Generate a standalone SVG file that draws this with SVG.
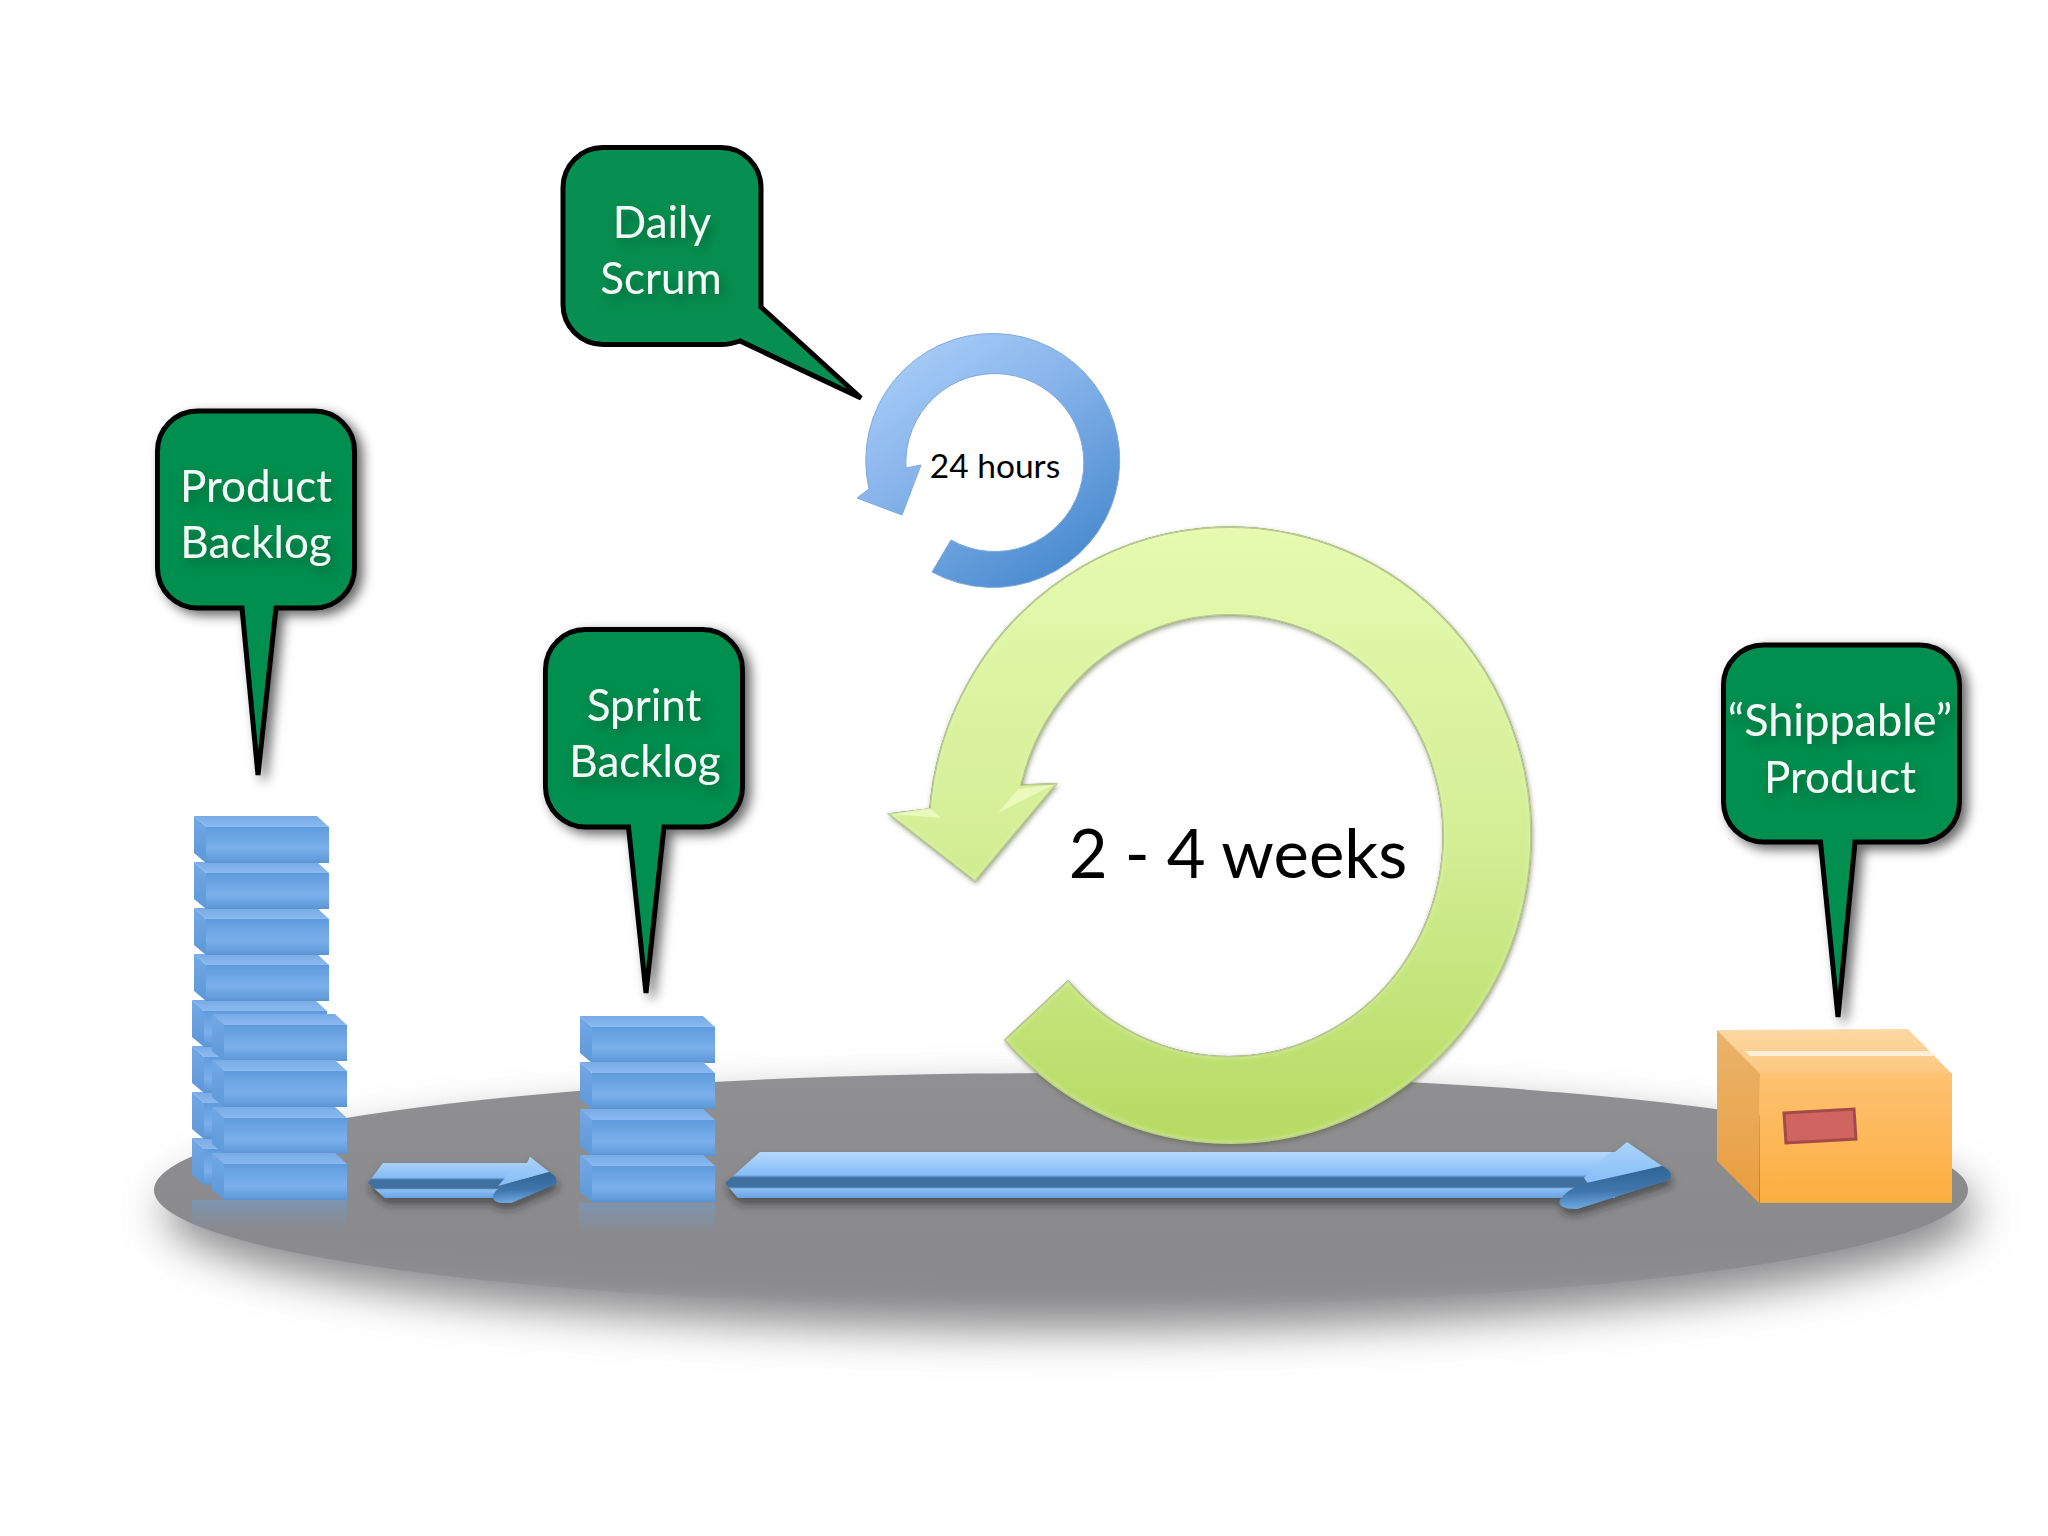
<svg xmlns="http://www.w3.org/2000/svg" width="2048" height="1536" viewBox="0 0 2048 1536">
<style>
.call{fill:#068f50;stroke:#000;stroke-width:5;stroke-linejoin:miter;stroke-miterlimit:4}
.lbl{font-family:"Lato","Liberation Sans",sans-serif;font-size:44px;fill:#f4fbf6;text-anchor:middle;filter:url(#ts)}
.blk{font-family:"Lato","Liberation Sans",sans-serif;fill:#000;text-anchor:middle}
</style>
<defs>
<filter id="ts" x="-30%" y="-50%" width="160%" height="220%"><feDropShadow dx="4" dy="6" stdDeviation="6" flood-color="#03502c" flood-opacity=".7"/></filter>
<filter id="cs" x="-20%" y="-20%" width="150%" height="140%"><feDropShadow dx="6" dy="5" stdDeviation="6" flood-color="#000" flood-opacity=".6"/></filter>
<filter id="big" x="-10%" y="-50%" width="120%" height="220%"><feGaussianBlur stdDeviation="22"/></filter>
<filter id="as" x="-10%" y="-60%" width="120%" height="260%"><feDropShadow dx="1" dy="6" stdDeviation="4" flood-color="#222" flood-opacity=".55"/></filter>
<filter id="soft"><feGaussianBlur stdDeviation=".7"/></filter>
<filter id="bev" x="-5%" y="-5%" width="110%" height="110%">
<feGaussianBlur in="SourceAlpha" stdDeviation="3" result="b"/>
<feComposite in="SourceAlpha" in2="b" operator="out" result="e"/>
<feFlood flood-color="#f2fcc8" flood-opacity=".7"/><feComposite in2="e" operator="in" result="l"/>
<feDropShadow in="SourceAlpha" dx="1" dy="2" stdDeviation="2.500" flood-color="#4d5a30" flood-opacity=".55" result="d"/>
<feMerge><feMergeNode in="d"/><feMergeNode in="SourceGraphic"/><feMergeNode in="l"/></feMerge>
</filter>
<linearGradient id="plat" gradientUnits="userSpaceOnUse" x1="0" y1="1073" x2="0" y2="1307"><stop offset="0" stop-color="#908f91"/><stop offset=".7" stop-color="#8a898b"/><stop offset=".85" stop-color="#8a898b" stop-opacity=".8"/><stop offset="1" stop-color="#8a898b" stop-opacity="0"/></linearGradient>
<linearGradient id="gGreen" x1="0" y1="0" x2="0" y2="1"><stop offset="0" stop-color="#e6fab0"/><stop offset=".5" stop-color="#d4ee96"/><stop offset="1" stop-color="#b6da62"/></linearGradient>
<linearGradient id="gBlue" x1="0" y1="0" x2=".7" y2="1"><stop offset="0" stop-color="#b2d4fb"/><stop offset=".45" stop-color="#8ab6ec"/><stop offset="1" stop-color="#4a8bcf"/></linearGradient>
<linearGradient id="fF" x1="0" y1="0" x2="0" y2="1"><stop offset="0" stop-color="#5f9bdc"/><stop offset=".12" stop-color="#65a0e0"/><stop offset=".6" stop-color="#7aafeb"/><stop offset=".9" stop-color="#639ddc"/><stop offset="1" stop-color="#5a93d0"/></linearGradient>
<linearGradient id="fT" x1="0" y1="0" x2="0" y2="1"><stop offset="0" stop-color="#78abe6"/><stop offset="1" stop-color="#8ab9f0"/></linearGradient>
<linearGradient id="fL" x1="0" y1="0" x2="0" y2="1"><stop offset="0" stop-color="#72a8e6"/><stop offset="1" stop-color="#5e98d8"/></linearGradient>
<linearGradient id="refl" x1="0" y1="0" x2="0" y2="1"><stop offset="0" stop-color="#6f9fd6" stop-opacity=".5"/><stop offset="1" stop-color="#6f9fd6" stop-opacity="0"/></linearGradient>
<linearGradient id="shaft" x1="0" y1="0" x2="0" y2="1"><stop offset="0" stop-color="#b6d8fd"/><stop offset=".5" stop-color="#85bcf7"/><stop offset=".56" stop-color="#3f6f9f"/><stop offset=".76" stop-color="#3f6f9f"/><stop offset=".8" stop-color="#8cc0f5"/><stop offset="1" stop-color="#68a2e2"/></linearGradient>
<linearGradient id="lobe" x1=".6" y1="0" x2=".72" y2="1"><stop offset="0" stop-color="#2f6292"/><stop offset=".55" stop-color="#3f76ad"/><stop offset="1" stop-color="#79b2ee"/></linearGradient>
<linearGradient id="hd" x1="0" y1="0" x2="0" y2="1"><stop offset="0" stop-color="#aad2fb"/><stop offset="1" stop-color="#85bcf7"/></linearGradient>
<linearGradient id="boxF" x1="0" y1="0" x2="0" y2="1"><stop offset="0" stop-color="#fdc272"/><stop offset="1" stop-color="#fcae3f"/></linearGradient>
<linearGradient id="boxL" x1="0" y1="0" x2="0" y2="1"><stop offset="0" stop-color="#eab46c"/><stop offset="1" stop-color="#ea9d3e"/></linearGradient>
<linearGradient id="boxT" x1="0" y1="0" x2="0" y2="1"><stop offset="0" stop-color="#fcd9a4"/><stop offset="1" stop-color="#fdc77e"/></linearGradient>
<g id="brick" filter="url(#soft)">
<polygon points="0,0 123,0 135,11 12,11" fill="url(#fT)"/>
<polygon points="0,0 12,11 12,47 0,37" fill="url(#fL)"/>
<rect x="12" y="11" width="123" height="36" fill="url(#fF)"/>
</g>
</defs>

<rect width="2048" height="1536" fill="#fff"/>

<g id="platform">
<ellipse cx="1070" cy="1212" rx="905" ry="118" fill="#8a898b" filter="url(#big)"/>
<ellipse cx="1061" cy="1190" rx="907" ry="117" fill="url(#plat)"/>
</g>

<g id="reflections">
<rect x="192" y="1200" width="155" height="32" fill="url(#refl)"/>
<rect x="579" y="1203" width="136" height="32" fill="url(#refl)"/>
</g>

<g id="product-stack">
<use href="#brick" x="192" y="1138"/>
<use href="#brick" x="192" y="1092"/>
<use href="#brick" x="192" y="1046"/>
<use href="#brick" x="192" y="1000"/>
<use href="#brick" x="194" y="954"/>
<use href="#brick" x="194" y="908"/>
<use href="#brick" x="194" y="862"/>
<use href="#brick" x="194" y="816"/>
<use href="#brick" x="212" y="1014"/>
<use href="#brick" x="212" y="1060"/>
<use href="#brick" x="212" y="1107"/>
<use href="#brick" x="212" y="1153"/>
</g>

<g id="sprint-stack">
<use href="#brick" x="580" y="1016"/>
<use href="#brick" x="580" y="1062"/>
<use href="#brick" x="580" y="1109"/>
<use href="#brick" x="580" y="1155"/>
</g>

<g id="connectors">
<g id="arrow-short" filter="url(#as)">
<path d="M368,1183 L383,1163 H527 L530,1157 L549,1172 L505,1184 L494,1198 H385 Z" fill="url(#shaft)"/>
<path d="M528,1163 L530,1157 L549,1172 L498,1186 L510,1172 Z" fill="url(#hd)"/>
<path d="M549,1172 Q559,1177 556,1184 L511,1203 Q491,1204 493,1195 Q497,1187 510,1183 Z" fill="url(#lobe)"/>
</g>
<g id="arrow-long" filter="url(#as)">
<path d="M725,1183 L760,1152 H1615 V1198 H738 Z" fill="url(#shaft)"/>
<path d="M1610,1152 H1615 L1627,1142 L1662,1166 L1590,1186 L1584,1178 Z" fill="url(#hd)"/>
<path d="M1662,1166 Q1675,1172 1669,1180 L1577,1209 Q1557,1209 1560,1200 Q1566,1190 1582,1184 Z" fill="url(#lobe)"/>
</g>
</g>

<g id="cycle-24h">
<path transform="translate(2,3)" d="M930,569 A127 127 0 1 0 867,486 L855,495 L900,512 L919,462 L904,465 A89 89 0 1 1 949,537 Z" fill="url(#gBlue)" stroke="#7ea9da" stroke-width="1"/>
<text class="blk" x="995" y="478" font-size="33.500">24 hours</text>
</g>

<g id="cycle-sprint">
<path d="M1005,1040 A301 308 0 1 0 930,809 L889,814 L975,881 L1056,784 L1021,785 A214 221 0 1 1 1068,981 Z" fill="url(#gGreen)" stroke="#9cb56c" stroke-width="1.500" filter="url(#bev)"/>
<polygon points="892,814 930,808 941,818" fill="#effcc4" opacity=".8"/>
<polygon points="1053,785 1018,789 998,813" fill="#effcc4" opacity=".8"/>
<text class="blk" x="1238" y="878" font-size="67">2 - 4 weeks</text>
</g>

<g id="box">
<polygon points="1717,1030 1908,1029 1952,1074 1760,1073" fill="url(#boxT)"/>
<polygon points="1745,1051 1930,1051 1936,1056 1750,1056" fill="#fdeed8"/>
<polygon points="1717,1030 1760,1073 1759,1203 1717,1161" fill="url(#boxL)"/>
<rect x="1760" y="1073" width="192" height="130" fill="url(#boxF)"/>
<polygon points="1784,1113 1854,1109 1856,1139 1786,1143" fill="#cf6460" stroke="#a44a48" stroke-width="3"/>
</g>

<g id="callout-daily">
<path class="call" d="M603,147.500 H721 A40 40 0 0 1 761,187.500 V307 L861,398 L740,341 Q730,344.500 721,344.500 H603 A40 40 0 0 1 563,304.500 V187.500 A40 40 0 0 1 603,147.500 Z"/>
<text class="lbl" x="662" y="238">Daily</text>
<text class="lbl" x="661" y="294">Scrum</text>
</g>

<g id="callout-product">
<path class="call" filter="url(#cs)" d="M197.500,411 H314.500 A40 40 0 0 1 354.500,451 V568 A40 40 0 0 1 314.500,608 H276 L258,775 L242,608 H197.500 A40 40 0 0 1 157.500,568 V451 A40 40 0 0 1 197.500,411 Z"/>
<text class="lbl" x="256" y="502">Product</text>
<text class="lbl" x="256" y="558">Backlog</text>
</g>

<g id="callout-sprint">
<path class="call" filter="url(#cs)" d="M585.500,629.500 H702.500 A40 40 0 0 1 742.500,669.500 V787 A40 40 0 0 1 702.500,827 H664 L646,993 L628.500,827 H585.500 A40 40 0 0 1 545.500,787 V669.500 A40 40 0 0 1 585.500,629.500 Z"/>
<text class="lbl" x="644" y="721">Sprint</text>
<text class="lbl" x="645" y="777">Backlog</text>
</g>

<g id="callout-shippable">
<path class="call" filter="url(#cs)" d="M1763.500,645 H1919.500 A40 40 0 0 1 1959.500,685 V802 A40 40 0 0 1 1919.500,842 H1855 L1838,1017 L1820.500,842 H1763.500 A40 40 0 0 1 1723.500,802 V685 A40 40 0 0 1 1763.500,645 Z"/>
<text class="lbl" x="1840" y="736" style="font-size:45px">“Shippable”</text>
<text class="lbl" x="1840" y="793">Product</text>
</g>
</svg>
